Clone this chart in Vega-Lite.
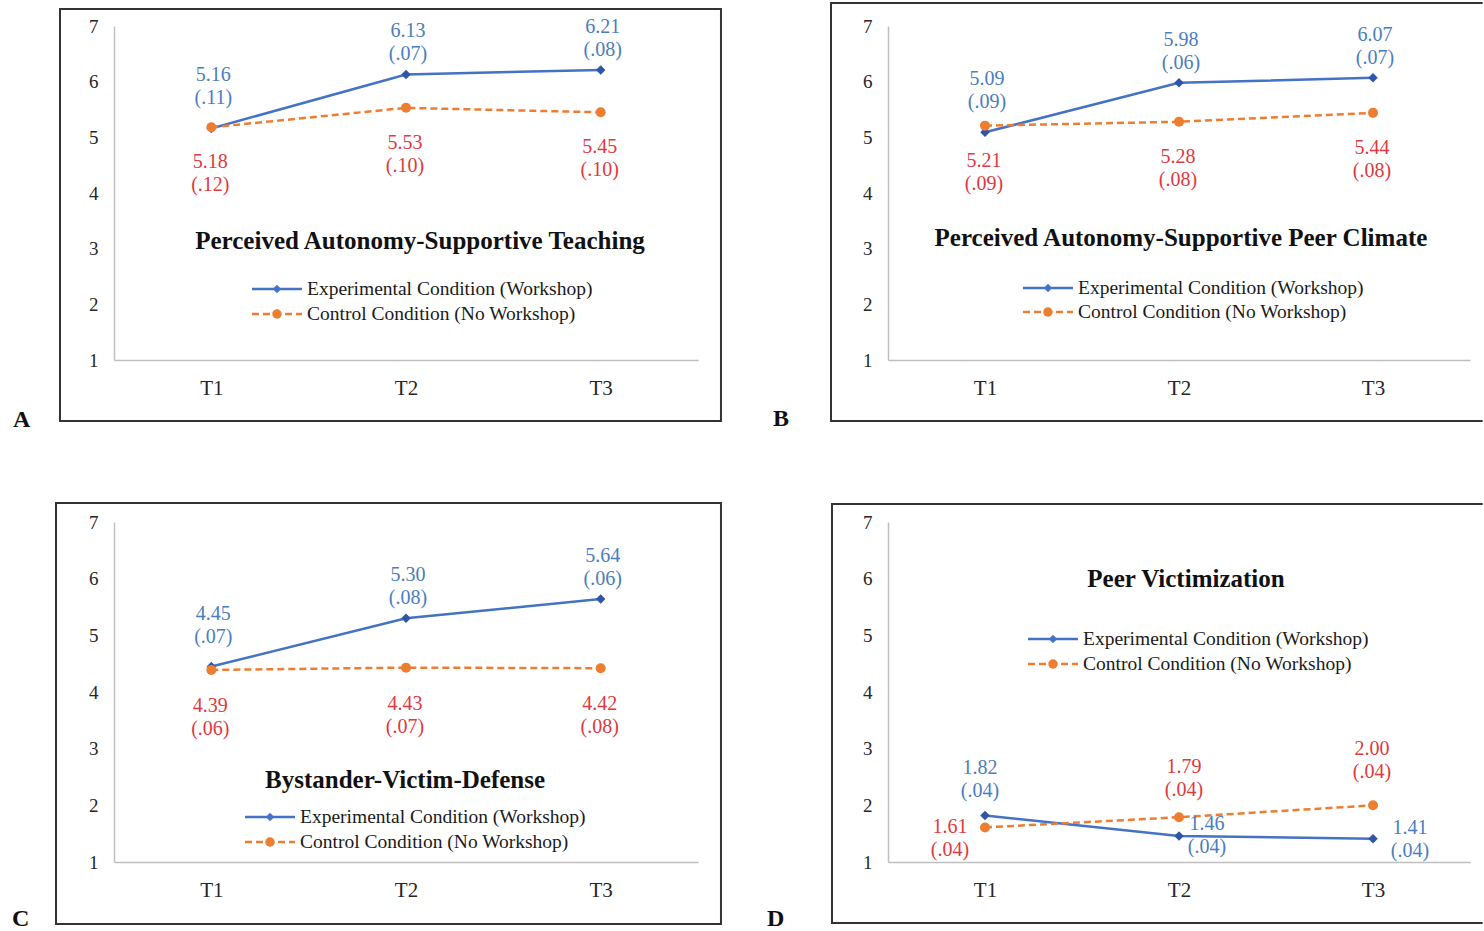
{
"$schema": "https://vega.github.io/schema/vega-lite/v6.json",
"background": "white",
"padding": {"left": 12, "top": 1, "right": 0, "bottom": 0},
"datasets": {"scores": [
{"panel":"A","condition":"Experimental Condition (Workshop)","time":1,"mean":5.16,"se":0.11},
{"panel":"A","condition":"Experimental Condition (Workshop)","time":2,"mean":6.13,"se":0.07},
{"panel":"A","condition":"Experimental Condition (Workshop)","time":3,"mean":6.21,"se":0.08},
{"panel":"A","condition":"Control Condition (No Workshop)","time":1,"mean":5.18,"se":0.12},
{"panel":"A","condition":"Control Condition (No Workshop)","time":2,"mean":5.53,"se":0.10},
{"panel":"A","condition":"Control Condition (No Workshop)","time":3,"mean":5.45,"se":0.10},
{"panel":"B","condition":"Experimental Condition (Workshop)","time":1,"mean":5.09,"se":0.09},
{"panel":"B","condition":"Experimental Condition (Workshop)","time":2,"mean":5.98,"se":0.06},
{"panel":"B","condition":"Experimental Condition (Workshop)","time":3,"mean":6.07,"se":0.07},
{"panel":"B","condition":"Control Condition (No Workshop)","time":1,"mean":5.21,"se":0.09},
{"panel":"B","condition":"Control Condition (No Workshop)","time":2,"mean":5.28,"se":0.08},
{"panel":"B","condition":"Control Condition (No Workshop)","time":3,"mean":5.44,"se":0.08},
{"panel":"C","condition":"Experimental Condition (Workshop)","time":1,"mean":4.45,"se":0.07},
{"panel":"C","condition":"Experimental Condition (Workshop)","time":2,"mean":5.30,"se":0.08},
{"panel":"C","condition":"Experimental Condition (Workshop)","time":3,"mean":5.64,"se":0.06},
{"panel":"C","condition":"Control Condition (No Workshop)","time":1,"mean":4.39,"se":0.06},
{"panel":"C","condition":"Control Condition (No Workshop)","time":2,"mean":4.43,"se":0.07},
{"panel":"C","condition":"Control Condition (No Workshop)","time":3,"mean":4.42,"se":0.08},
{"panel":"D","condition":"Experimental Condition (Workshop)","time":1,"mean":1.82,"se":0.04},
{"panel":"D","condition":"Experimental Condition (Workshop)","time":2,"mean":1.46,"se":0.04},
{"panel":"D","condition":"Experimental Condition (Workshop)","time":3,"mean":1.41,"se":0.04},
{"panel":"D","condition":"Control Condition (No Workshop)","time":1,"mean":1.61,"se":0.04},
{"panel":"D","condition":"Control Condition (No Workshop)","time":2,"mean":1.79,"se":0.04},
{"panel":"D","condition":"Control Condition (No Workshop)","time":3,"mean":2.00,"se":0.04}
]},
"columns": 2,
"spacing": {"row": 162, "column": 190},
"bounds": "flush",
"align": "each",
"concat": [
{
 "width": 584, "height": 334,
 "layer": [
  {"data":{"values":[{}]},
   "mark":{"type":"rect","fill":"transparent","stroke":"#333333","strokeWidth":2,"clip":false},
   "encoding":{"x":{"datum":0.2226,"type":"quantitative","scale":{"domain":[0.5,3.5],"nice":false,"zero":false},"axis":{"values":[1,2,3],"labelExpr":"'T' + datum.value","title":null}},"x2":{"datum":3.618},"y":{"datum":7.305,"type":"quantitative","scale":{"domain":[1,7],"nice":false,"zero":false},"axis":{"values":[1,2,3,4,5,6,7],"format":"d","title":null}},"y2":{"datum":-0.0958}}},
  {"data":{"values":[{}]},
   "mark":{"type":"text","text":"A","font":"Liberation Serif","fontSize":24,"fontWeight":"bold","align":"left","baseline":"alphabetic","color":"#111111","clip":false},
   "encoding":{"x":{"datum":-0.0188,"type":"quantitative"},"y":{"datum":-0.2036,"type":"quantitative"}}},
  {"data":{"values":[{}]},
   "mark":{"type":"text","text":"Perceived Autonomy-Supportive Teaching","font":"Liberation Serif","fontSize":25,"fontWeight":"bold","align":"center","baseline":"middle","color":"#111111"},
   "encoding":{"x":{"datum":2.072,"type":"quantitative"},"y":{"datum":3.138,"type":"quantitative"}}},
  {"data":{"name":"scores"},
   "transform":[{"filter":"datum.panel === 'A'"},{"calculate":"[format(datum.mean, '.2f'), '(' + replace(format(datum.se, '.2f'), '0.', '.') + ')']","as":"label"}],
   "encoding":{"x":{"field":"time","type":"quantitative","scale":{"domain":[0.5,3.5],"nice":false,"zero":false},"axis":{"values":[1,2,3],"labelExpr":"'T' + datum.value","title":null}},"y":{"field":"mean","type":"quantitative","scale":{"domain":[1,7],"nice":false,"zero":false},"axis":{"values":[1,2,3,4,5,6,7],"format":"d","title":null}}},
   "layer":[
    {"transform":[{"filter":"datum.condition === 'Experimental Condition (Workshop)'"}],"mark":{"type":"line","strokeWidth":2.5,"color":"#4472C4"}},
    {"transform":[{"filter":"datum.condition === 'Control Condition (No Workshop)'"}],"mark":{"type":"line","strokeWidth":2.5,"color":"#ED7D31","strokeDash":[7,4]}},
    {"transform":[{"filter":"datum.condition === 'Experimental Condition (Workshop)'"}],"mark":{"type":"point","shape":"diamond","filled":true,"size":90,"opacity":1,"color":"#2E55A8"}},
    {"transform":[{"filter":"datum.condition === 'Control Condition (No Workshop)'"}],"mark":{"type":"point","shape":"circle","filled":true,"size":100,"opacity":1,"color":"#ED7D31"}},
    {"transform":[{"filter":"datum.condition === 'Experimental Condition (Workshop)' && datum.time === 1"}],
     "mark":{"type":"text","font":"Liberation Serif","fontSize":20,"lineHeight":23,"align":"center","baseline":"middle","dx":2,"dy":-53,"color":"#4A7EBE"},
     "encoding":{"text":{"field":"label","type":"nominal"}}},
    {"transform":[{"filter":"datum.condition === 'Experimental Condition (Workshop)' && datum.time > 1"}],
     "mark":{"type":"text","font":"Liberation Serif","fontSize":20,"lineHeight":23,"align":"center","baseline":"middle","dx":2,"dy":-43,"color":"#4A7EBE"},
     "encoding":{"text":{"field":"label","type":"nominal"}}},
    {"transform":[{"filter":"datum.condition === 'Control Condition (No Workshop)'"}],
     "mark":{"type":"text","font":"Liberation Serif","fontSize":20,"lineHeight":23,"align":"center","baseline":"middle","dx":-1,"dy":35,"color":"#E0393E"},
     "encoding":{"text":{"field":"label","type":"nominal"}}},
    {"transform":[{"filter":"datum.condition === 'Experimental Condition (Workshop)' && datum.time === 1"}],
     "mark":{"type":"rule","color":"#4472C4","strokeWidth":2.5},
     "encoding":{"x":{"datum":1.2089,"type":"quantitative"},"x2":{"datum":1.4658},"y":{"datum":2.2754,"type":"quantitative"}}},
    {"transform":[{"filter":"datum.condition === 'Experimental Condition (Workshop)' && datum.time === 1"}],
     "mark":{"type":"point","shape":"diamond","filled":true,"size":70,"opacity":1,"color":"#4472C4"},
     "encoding":{"x":{"datum":1.3373,"type":"quantitative"},"y":{"datum":2.2754,"type":"quantitative"}}},
    {"transform":[{"filter":"datum.condition === 'Experimental Condition (Workshop)' && datum.time === 1"}],
     "mark":{"type":"text","font":"Liberation Serif","fontSize":19.5,"align":"left","baseline":"middle","color":"#1a1a1a"},
     "encoding":{"x":{"datum":1.4914,"type":"quantitative"},"y":{"datum":2.2754,"type":"quantitative"},"text":{"field":"condition","type":"nominal"}}},
    {"transform":[{"filter":"datum.condition === 'Control Condition (No Workshop)' && datum.time === 1"}],
     "mark":{"type":"rule","color":"#ED7D31","strokeWidth":2.5,"strokeDash":[7,4]},
     "encoding":{"x":{"datum":1.2089,"type":"quantitative"},"x2":{"datum":1.4658},"y":{"datum":1.8264,"type":"quantitative"}}},
    {"transform":[{"filter":"datum.condition === 'Control Condition (No Workshop)' && datum.time === 1"}],
     "mark":{"type":"point","shape":"circle","filled":true,"size":90,"opacity":1,"color":"#ED7D31"},
     "encoding":{"x":{"datum":1.3373,"type":"quantitative"},"y":{"datum":1.8264,"type":"quantitative"}}},
    {"transform":[{"filter":"datum.condition === 'Control Condition (No Workshop)' && datum.time === 1"}],
     "mark":{"type":"text","font":"Liberation Serif","fontSize":19.5,"align":"left","baseline":"middle","color":"#1a1a1a"},
     "encoding":{"x":{"datum":1.4914,"type":"quantitative"},"y":{"datum":1.8264,"type":"quantitative"},"text":{"field":"condition","type":"nominal"}}}
   ]}
 ]
},
{
 "width": 582, "height": 334,
 "layer": [
  {"data":{"values":[{}]},
   "mark":{"type":"rule","stroke":"#333333","strokeWidth":2,"strokeCap":"square","clip":false},
   "encoding":{"x":{"datum":0.2062,"type":"quantitative","scale":{"domain":[0.5,3.5],"nice":false,"zero":false},"axis":{"values":[1,2,3],"labelExpr":"'T' + datum.value","title":null}},"x2":{"datum":3.56},"y":{"datum":7.413,"type":"quantitative","scale":{"domain":[1,7],"nice":false,"zero":false},"axis":{"values":[1,2,3,4,5,6,7],"format":"d","title":null}}}},
  {"data":{"values":[{}]},
   "mark":{"type":"rule","stroke":"#333333","strokeWidth":2,"strokeCap":"square","clip":false},
   "encoding":{"x":{"datum":0.2062,"type":"quantitative"},"x2":{"datum":3.56},"y":{"datum":-0.0958,"type":"quantitative"}}},
  {"data":{"values":[{}]},
   "mark":{"type":"rule","stroke":"#333333","strokeWidth":2,"strokeCap":"square","clip":false},
   "encoding":{"x":{"datum":0.2062,"type":"quantitative"},"y":{"datum":7.413,"type":"quantitative"},"y2":{"datum":-0.0958}}},
  {"data":{"values":[{}]},
   "mark":{"type":"text","text":"B","font":"Liberation Serif","fontSize":24,"fontWeight":"bold","align":"left","baseline":"alphabetic","color":"#111111","clip":false},
   "encoding":{"x":{"datum":-0.0928,"type":"quantitative"},"y":{"datum":-0.1857,"type":"quantitative"}}},
  {"data":{"values":[{}]},
   "mark":{"type":"text","text":"Perceived Autonomy-Supportive Peer Climate","font":"Liberation Serif","fontSize":25,"fontWeight":"bold","align":"center","baseline":"middle","color":"#111111"},
   "encoding":{"x":{"datum":2.010,"type":"quantitative"},"y":{"datum":3.192,"type":"quantitative"}}},
  {"data":{"name":"scores"},
   "transform":[{"filter":"datum.panel === 'B'"},{"calculate":"[format(datum.mean, '.2f'), '(' + replace(format(datum.se, '.2f'), '0.', '.') + ')']","as":"label"}],
   "encoding":{"x":{"field":"time","type":"quantitative","scale":{"domain":[0.5,3.5],"nice":false,"zero":false},"axis":{"values":[1,2,3],"labelExpr":"'T' + datum.value","title":null}},"y":{"field":"mean","type":"quantitative","scale":{"domain":[1,7],"nice":false,"zero":false},"axis":{"values":[1,2,3,4,5,6,7],"format":"d","title":null}}},
   "layer":[
    {"transform":[{"filter":"datum.condition === 'Experimental Condition (Workshop)'"}],"mark":{"type":"line","strokeWidth":2.5,"color":"#4472C4"}},
    {"transform":[{"filter":"datum.condition === 'Control Condition (No Workshop)'"}],"mark":{"type":"line","strokeWidth":2.5,"color":"#ED7D31","strokeDash":[7,4]}},
    {"transform":[{"filter":"datum.condition === 'Experimental Condition (Workshop)'"}],"mark":{"type":"point","shape":"diamond","filled":true,"size":90,"opacity":1,"color":"#2E55A8"}},
    {"transform":[{"filter":"datum.condition === 'Control Condition (No Workshop)'"}],"mark":{"type":"point","shape":"circle","filled":true,"size":100,"opacity":1,"color":"#ED7D31"}},
    {"transform":[{"filter":"datum.condition === 'Experimental Condition (Workshop)' && datum.time === 1"}],
     "mark":{"type":"text","font":"Liberation Serif","fontSize":20,"lineHeight":23,"align":"center","baseline":"middle","dx":2,"dy":-53,"color":"#4A7EBE"},
     "encoding":{"text":{"field":"label","type":"nominal"}}},
    {"transform":[{"filter":"datum.condition === 'Experimental Condition (Workshop)' && datum.time > 1"}],
     "mark":{"type":"text","font":"Liberation Serif","fontSize":20,"lineHeight":23,"align":"center","baseline":"middle","dx":2,"dy":-43,"color":"#4A7EBE"},
     "encoding":{"text":{"field":"label","type":"nominal"}}},
    {"transform":[{"filter":"datum.condition === 'Control Condition (No Workshop)'"}],
     "mark":{"type":"text","font":"Liberation Serif","fontSize":20,"lineHeight":23,"align":"center","baseline":"middle","dx":-1,"dy":35,"color":"#E0393E"},
     "encoding":{"text":{"field":"label","type":"nominal"}}},
    {"transform":[{"filter":"datum.condition === 'Experimental Condition (Workshop)' && datum.time === 1"}],
     "mark":{"type":"rule","color":"#4472C4","strokeWidth":2.5},
     "encoding":{"x":{"datum":1.1959,"type":"quantitative"},"x2":{"datum":1.4536},"y":{"datum":2.2934,"type":"quantitative"}}},
    {"transform":[{"filter":"datum.condition === 'Experimental Condition (Workshop)' && datum.time === 1"}],
     "mark":{"type":"point","shape":"diamond","filled":true,"size":70,"opacity":1,"color":"#4472C4"},
     "encoding":{"x":{"datum":1.3247,"type":"quantitative"},"y":{"datum":2.2934,"type":"quantitative"}}},
    {"transform":[{"filter":"datum.condition === 'Experimental Condition (Workshop)' && datum.time === 1"}],
     "mark":{"type":"text","font":"Liberation Serif","fontSize":19.5,"align":"left","baseline":"middle","color":"#1a1a1a"},
     "encoding":{"x":{"datum":1.4794,"type":"quantitative"},"y":{"datum":2.2934,"type":"quantitative"},"text":{"field":"condition","type":"nominal"}}},
    {"transform":[{"filter":"datum.condition === 'Control Condition (No Workshop)' && datum.time === 1"}],
     "mark":{"type":"rule","color":"#ED7D31","strokeWidth":2.5,"strokeDash":[7,4]},
     "encoding":{"x":{"datum":1.1959,"type":"quantitative"},"x2":{"datum":1.4536},"y":{"datum":1.8623,"type":"quantitative"}}},
    {"transform":[{"filter":"datum.condition === 'Control Condition (No Workshop)' && datum.time === 1"}],
     "mark":{"type":"point","shape":"circle","filled":true,"size":90,"opacity":1,"color":"#ED7D31"},
     "encoding":{"x":{"datum":1.3247,"type":"quantitative"},"y":{"datum":1.8623,"type":"quantitative"}}},
    {"transform":[{"filter":"datum.condition === 'Control Condition (No Workshop)' && datum.time === 1"}],
     "mark":{"type":"text","font":"Liberation Serif","fontSize":19.5,"align":"left","baseline":"middle","color":"#1a1a1a"},
     "encoding":{"x":{"datum":1.4794,"type":"quantitative"},"y":{"datum":1.8623,"type":"quantitative"},"text":{"field":"condition","type":"nominal"}}}
   ]}
 ]
},
{
 "width": 584, "height": 340,
 "layer": [
  {"data":{"values":[{}]},
   "mark":{"type":"rect","fill":"transparent","stroke":"#333333","strokeWidth":2,"clip":false},
   "encoding":{"x":{"datum":0.2021,"type":"quantitative","scale":{"domain":[0.5,3.5],"nice":false,"zero":false},"axis":{"values":[1,2,3],"labelExpr":"'T' + datum.value","title":null}},"x2":{"datum":3.618},"y":{"datum":7.335,"type":"quantitative","scale":{"domain":[1,7],"nice":false,"zero":false},"axis":{"values":[1,2,3,4,5,6,7],"format":"d","title":null}},"y2":{"datum":-0.0941}}},
  {"data":{"values":[{}]},
   "mark":{"type":"text","text":"C","font":"Liberation Serif","fontSize":24,"fontWeight":"bold","align":"left","baseline":"alphabetic","color":"#111111","clip":false},
   "encoding":{"x":{"datum":-0.02346,"type":"quantitative"},"y":{"datum":-0.129,"type":"quantitative"}}},
  {"data":{"values":[{}]},
   "mark":{"type":"text","text":"Bystander-Victim-Defense","font":"Liberation Serif","fontSize":25,"fontWeight":"bold","align":"center","baseline":"middle","color":"#111111"},
   "encoding":{"x":{"datum":1.995,"type":"quantitative"},"y":{"datum":2.447,"type":"quantitative"}}},
  {"data":{"name":"scores"},
   "transform":[{"filter":"datum.panel === 'C'"},{"calculate":"[format(datum.mean, '.2f'), '(' + replace(format(datum.se, '.2f'), '0.', '.') + ')']","as":"label"}],
   "encoding":{"x":{"field":"time","type":"quantitative","scale":{"domain":[0.5,3.5],"nice":false,"zero":false},"axis":{"values":[1,2,3],"labelExpr":"'T' + datum.value","title":null}},"y":{"field":"mean","type":"quantitative","scale":{"domain":[1,7],"nice":false,"zero":false},"axis":{"values":[1,2,3,4,5,6,7],"format":"d","title":null}}},
   "layer":[
    {"transform":[{"filter":"datum.condition === 'Experimental Condition (Workshop)'"}],"mark":{"type":"line","strokeWidth":2.5,"color":"#4472C4"}},
    {"transform":[{"filter":"datum.condition === 'Control Condition (No Workshop)'"}],"mark":{"type":"line","strokeWidth":2.5,"color":"#ED7D31","strokeDash":[7,4]}},
    {"transform":[{"filter":"datum.condition === 'Experimental Condition (Workshop)'"}],"mark":{"type":"point","shape":"diamond","filled":true,"size":90,"opacity":1,"color":"#2E55A8"}},
    {"transform":[{"filter":"datum.condition === 'Control Condition (No Workshop)'"}],"mark":{"type":"point","shape":"circle","filled":true,"size":100,"opacity":1,"color":"#ED7D31"}},
    {"transform":[{"filter":"datum.condition === 'Experimental Condition (Workshop)' && datum.time === 1"}],
     "mark":{"type":"text","font":"Liberation Serif","fontSize":20,"lineHeight":23,"align":"center","baseline":"middle","dx":2,"dy":-53,"color":"#4A7EBE"},
     "encoding":{"text":{"field":"label","type":"nominal"}}},
    {"transform":[{"filter":"datum.condition === 'Experimental Condition (Workshop)' && datum.time > 1"}],
     "mark":{"type":"text","font":"Liberation Serif","fontSize":20,"lineHeight":23,"align":"center","baseline":"middle","dx":2,"dy":-43,"color":"#4A7EBE"},
     "encoding":{"text":{"field":"label","type":"nominal"}}},
    {"transform":[{"filter":"datum.condition === 'Control Condition (No Workshop)'"}],
     "mark":{"type":"text","font":"Liberation Serif","fontSize":20,"lineHeight":23,"align":"center","baseline":"middle","dx":-1,"dy":36,"color":"#E0393E"},
     "encoding":{"text":{"field":"label","type":"nominal"}}},
    {"transform":[{"filter":"datum.condition === 'Experimental Condition (Workshop)' && datum.time === 1"}],
     "mark":{"type":"rule","color":"#4472C4","strokeWidth":2.5},
     "encoding":{"x":{"datum":1.1730,"type":"quantitative"},"x2":{"datum":1.4298},"y":{"datum":1.7941,"type":"quantitative"}}},
    {"transform":[{"filter":"datum.condition === 'Experimental Condition (Workshop)' && datum.time === 1"}],
     "mark":{"type":"point","shape":"diamond","filled":true,"size":70,"opacity":1,"color":"#4472C4"},
     "encoding":{"x":{"datum":1.3014,"type":"quantitative"},"y":{"datum":1.7941,"type":"quantitative"}}},
    {"transform":[{"filter":"datum.condition === 'Experimental Condition (Workshop)' && datum.time === 1"}],
     "mark":{"type":"text","font":"Liberation Serif","fontSize":19.5,"align":"left","baseline":"middle","color":"#1a1a1a"},
     "encoding":{"x":{"datum":1.4555,"type":"quantitative"},"y":{"datum":1.7941,"type":"quantitative"},"text":{"field":"condition","type":"nominal"}}},
    {"transform":[{"filter":"datum.condition === 'Control Condition (No Workshop)' && datum.time === 1"}],
     "mark":{"type":"rule","color":"#ED7D31","strokeWidth":2.5,"strokeDash":[7,4]},
     "encoding":{"x":{"datum":1.1730,"type":"quantitative"},"x2":{"datum":1.4298},"y":{"datum":1.3529,"type":"quantitative"}}},
    {"transform":[{"filter":"datum.condition === 'Control Condition (No Workshop)' && datum.time === 1"}],
     "mark":{"type":"point","shape":"circle","filled":true,"size":90,"opacity":1,"color":"#ED7D31"},
     "encoding":{"x":{"datum":1.3014,"type":"quantitative"},"y":{"datum":1.3529,"type":"quantitative"}}},
    {"transform":[{"filter":"datum.condition === 'Control Condition (No Workshop)' && datum.time === 1"}],
     "mark":{"type":"text","font":"Liberation Serif","fontSize":19.5,"align":"left","baseline":"middle","color":"#1a1a1a"},
     "encoding":{"x":{"datum":1.4555,"type":"quantitative"},"y":{"datum":1.3529,"type":"quantitative"},"text":{"field":"condition","type":"nominal"}}}
   ]}
 ]
},
{
 "width": 582, "height": 340,
 "layer": [
  {"data":{"values":[{}]},
   "mark":{"type":"rule","stroke":"#333333","strokeWidth":2,"strokeCap":"square","clip":false},
   "encoding":{"x":{"datum":0.2113,"type":"quantitative","scale":{"domain":[0.5,3.5],"nice":false,"zero":false},"axis":{"values":[1,2,3],"labelExpr":"'T' + datum.value","title":null}},"x2":{"datum":3.56},"y":{"datum":7.318,"type":"quantitative","scale":{"domain":[1,7],"nice":false,"zero":false},"axis":{"values":[1,2,3,4,5,6,7],"format":"d","title":null}}}},
  {"data":{"values":[{}]},
   "mark":{"type":"rule","stroke":"#333333","strokeWidth":2,"strokeCap":"square","clip":false},
   "encoding":{"x":{"datum":0.2113,"type":"quantitative"},"x2":{"datum":3.56},"y":{"datum":-0.0765,"type":"quantitative"}}},
  {"data":{"values":[{}]},
   "mark":{"type":"rule","stroke":"#333333","strokeWidth":2,"strokeCap":"square","clip":false},
   "encoding":{"x":{"datum":0.2113,"type":"quantitative"},"y":{"datum":7.318,"type":"quantitative"},"y2":{"datum":-0.0765}}},
  {"data":{"values":[{}]},
   "mark":{"type":"text","text":"D","font":"Liberation Serif","fontSize":24,"fontWeight":"bold","align":"left","baseline":"alphabetic","color":"#111111","clip":false},
   "encoding":{"x":{"datum":-0.1237,"type":"quantitative"},"y":{"datum":-0.129,"type":"quantitative"}}},
  {"data":{"values":[{}]},
   "mark":{"type":"text","text":"Peer Victimization","font":"Liberation Serif","fontSize":25,"fontWeight":"bold","align":"center","baseline":"middle","color":"#111111"},
   "encoding":{"x":{"datum":2.036,"type":"quantitative"},"y":{"datum":5.994,"type":"quantitative"}}},
  {"data":{"name":"scores"},
   "transform":[{"filter":"datum.panel === 'D'"},{"calculate":"[format(datum.mean, '.2f'), '(' + replace(format(datum.se, '.2f'), '0.', '.') + ')']","as":"label"}],
   "encoding":{"x":{"field":"time","type":"quantitative","scale":{"domain":[0.5,3.5],"nice":false,"zero":false},"axis":{"values":[1,2,3],"labelExpr":"'T' + datum.value","title":null}},"y":{"field":"mean","type":"quantitative","scale":{"domain":[1,7],"nice":false,"zero":false},"axis":{"values":[1,2,3,4,5,6,7],"format":"d","title":null}}},
   "layer":[
    {"transform":[{"filter":"datum.condition === 'Experimental Condition (Workshop)'"}],"mark":{"type":"line","strokeWidth":2.5,"color":"#4472C4"}},
    {"transform":[{"filter":"datum.condition === 'Control Condition (No Workshop)'"}],"mark":{"type":"line","strokeWidth":2.5,"color":"#ED7D31","strokeDash":[7,4]}},
    {"transform":[{"filter":"datum.condition === 'Experimental Condition (Workshop)'"}],"mark":{"type":"point","shape":"diamond","filled":true,"size":90,"opacity":1,"color":"#2E55A8"}},
    {"transform":[{"filter":"datum.condition === 'Control Condition (No Workshop)'"}],"mark":{"type":"point","shape":"circle","filled":true,"size":100,"opacity":1,"color":"#ED7D31"}},
    {"transform":[{"filter":"datum.condition === 'Experimental Condition (Workshop)' && datum.time === 1"}],
     "mark":{"type":"text","font":"Liberation Serif","fontSize":20,"lineHeight":23,"align":"center","baseline":"middle","dx":-5,"dy":-47.5,"color":"#4A7EBE"},
     "encoding":{"text":{"field":"label","type":"nominal"}}},
    {"transform":[{"filter":"datum.condition === 'Experimental Condition (Workshop)' && datum.time === 2"}],
     "mark":{"type":"text","font":"Liberation Serif","fontSize":20,"lineHeight":23,"align":"center","baseline":"middle","dx":28,"dy":-11.5,"color":"#4A7EBE"},
     "encoding":{"text":{"field":"label","type":"nominal"}}},
    {"transform":[{"filter":"datum.condition === 'Experimental Condition (Workshop)' && datum.time === 3"}],
     "mark":{"type":"text","font":"Liberation Serif","fontSize":20,"lineHeight":23,"align":"center","baseline":"middle","dx":37,"dy":-10.5,"color":"#4A7EBE"},
     "encoding":{"text":{"field":"label","type":"nominal"}}},
    {"transform":[{"filter":"datum.condition === 'Control Condition (No Workshop)' && datum.time === 1"}],
     "mark":{"type":"text","font":"Liberation Serif","fontSize":20,"lineHeight":23,"align":"center","baseline":"middle","dx":-35,"dy":-0.5,"color":"#E0393E"},
     "encoding":{"text":{"field":"label","type":"nominal"}}},
    {"transform":[{"filter":"datum.condition === 'Control Condition (No Workshop)' && datum.time === 2"}],
     "mark":{"type":"text","font":"Liberation Serif","fontSize":20,"lineHeight":23,"align":"center","baseline":"middle","dx":5,"dy":-50.5,"color":"#E0393E"},
     "encoding":{"text":{"field":"label","type":"nominal"}}},
    {"transform":[{"filter":"datum.condition === 'Control Condition (No Workshop)' && datum.time === 3"}],
     "mark":{"type":"text","font":"Liberation Serif","fontSize":20,"lineHeight":23,"align":"center","baseline":"middle","dx":-1,"dy":-56.5,"color":"#E0393E"},
     "encoding":{"text":{"field":"label","type":"nominal"}}},
    {"transform":[{"filter":"datum.condition === 'Experimental Condition (Workshop)' && datum.time === 1"}],
     "mark":{"type":"rule","color":"#4472C4","strokeWidth":2.5},
     "encoding":{"x":{"datum":1.2216,"type":"quantitative"},"x2":{"datum":1.4794},"y":{"datum":4.9353,"type":"quantitative"}}},
    {"transform":[{"filter":"datum.condition === 'Experimental Condition (Workshop)' && datum.time === 1"}],
     "mark":{"type":"point","shape":"diamond","filled":true,"size":70,"opacity":1,"color":"#4472C4"},
     "encoding":{"x":{"datum":1.3505,"type":"quantitative"},"y":{"datum":4.9353,"type":"quantitative"}}},
    {"transform":[{"filter":"datum.condition === 'Experimental Condition (Workshop)' && datum.time === 1"}],
     "mark":{"type":"text","font":"Liberation Serif","fontSize":19.5,"align":"left","baseline":"middle","color":"#1a1a1a"},
     "encoding":{"x":{"datum":1.5052,"type":"quantitative"},"y":{"datum":4.9353,"type":"quantitative"},"text":{"field":"condition","type":"nominal"}}},
    {"transform":[{"filter":"datum.condition === 'Control Condition (No Workshop)' && datum.time === 1"}],
     "mark":{"type":"rule","color":"#ED7D31","strokeWidth":2.5,"strokeDash":[7,4]},
     "encoding":{"x":{"datum":1.2216,"type":"quantitative"},"x2":{"datum":1.4794},"y":{"datum":4.4941,"type":"quantitative"}}},
    {"transform":[{"filter":"datum.condition === 'Control Condition (No Workshop)' && datum.time === 1"}],
     "mark":{"type":"point","shape":"circle","filled":true,"size":90,"opacity":1,"color":"#ED7D31"},
     "encoding":{"x":{"datum":1.3505,"type":"quantitative"},"y":{"datum":4.4941,"type":"quantitative"}}},
    {"transform":[{"filter":"datum.condition === 'Control Condition (No Workshop)' && datum.time === 1"}],
     "mark":{"type":"text","font":"Liberation Serif","fontSize":19.5,"align":"left","baseline":"middle","color":"#1a1a1a"},
     "encoding":{"x":{"datum":1.5052,"type":"quantitative"},"y":{"datum":4.4941,"type":"quantitative"},"text":{"field":"condition","type":"nominal"}}}
   ]}
 ]
}
],
"config": {
 "view": {"stroke": null},
 "axis": {"labelFont": "Liberation Serif", "labelColor": "#262626", "domainColor": "#BFBFBF", "domainWidth": 1.5, "ticks": false, "tickSize": 0, "grid": false},
 "axisX": {"labelFontSize": 21, "labelPadding": 17},
 "axisY": {"labelFontSize": 19, "labelPadding": 16}
}
}
